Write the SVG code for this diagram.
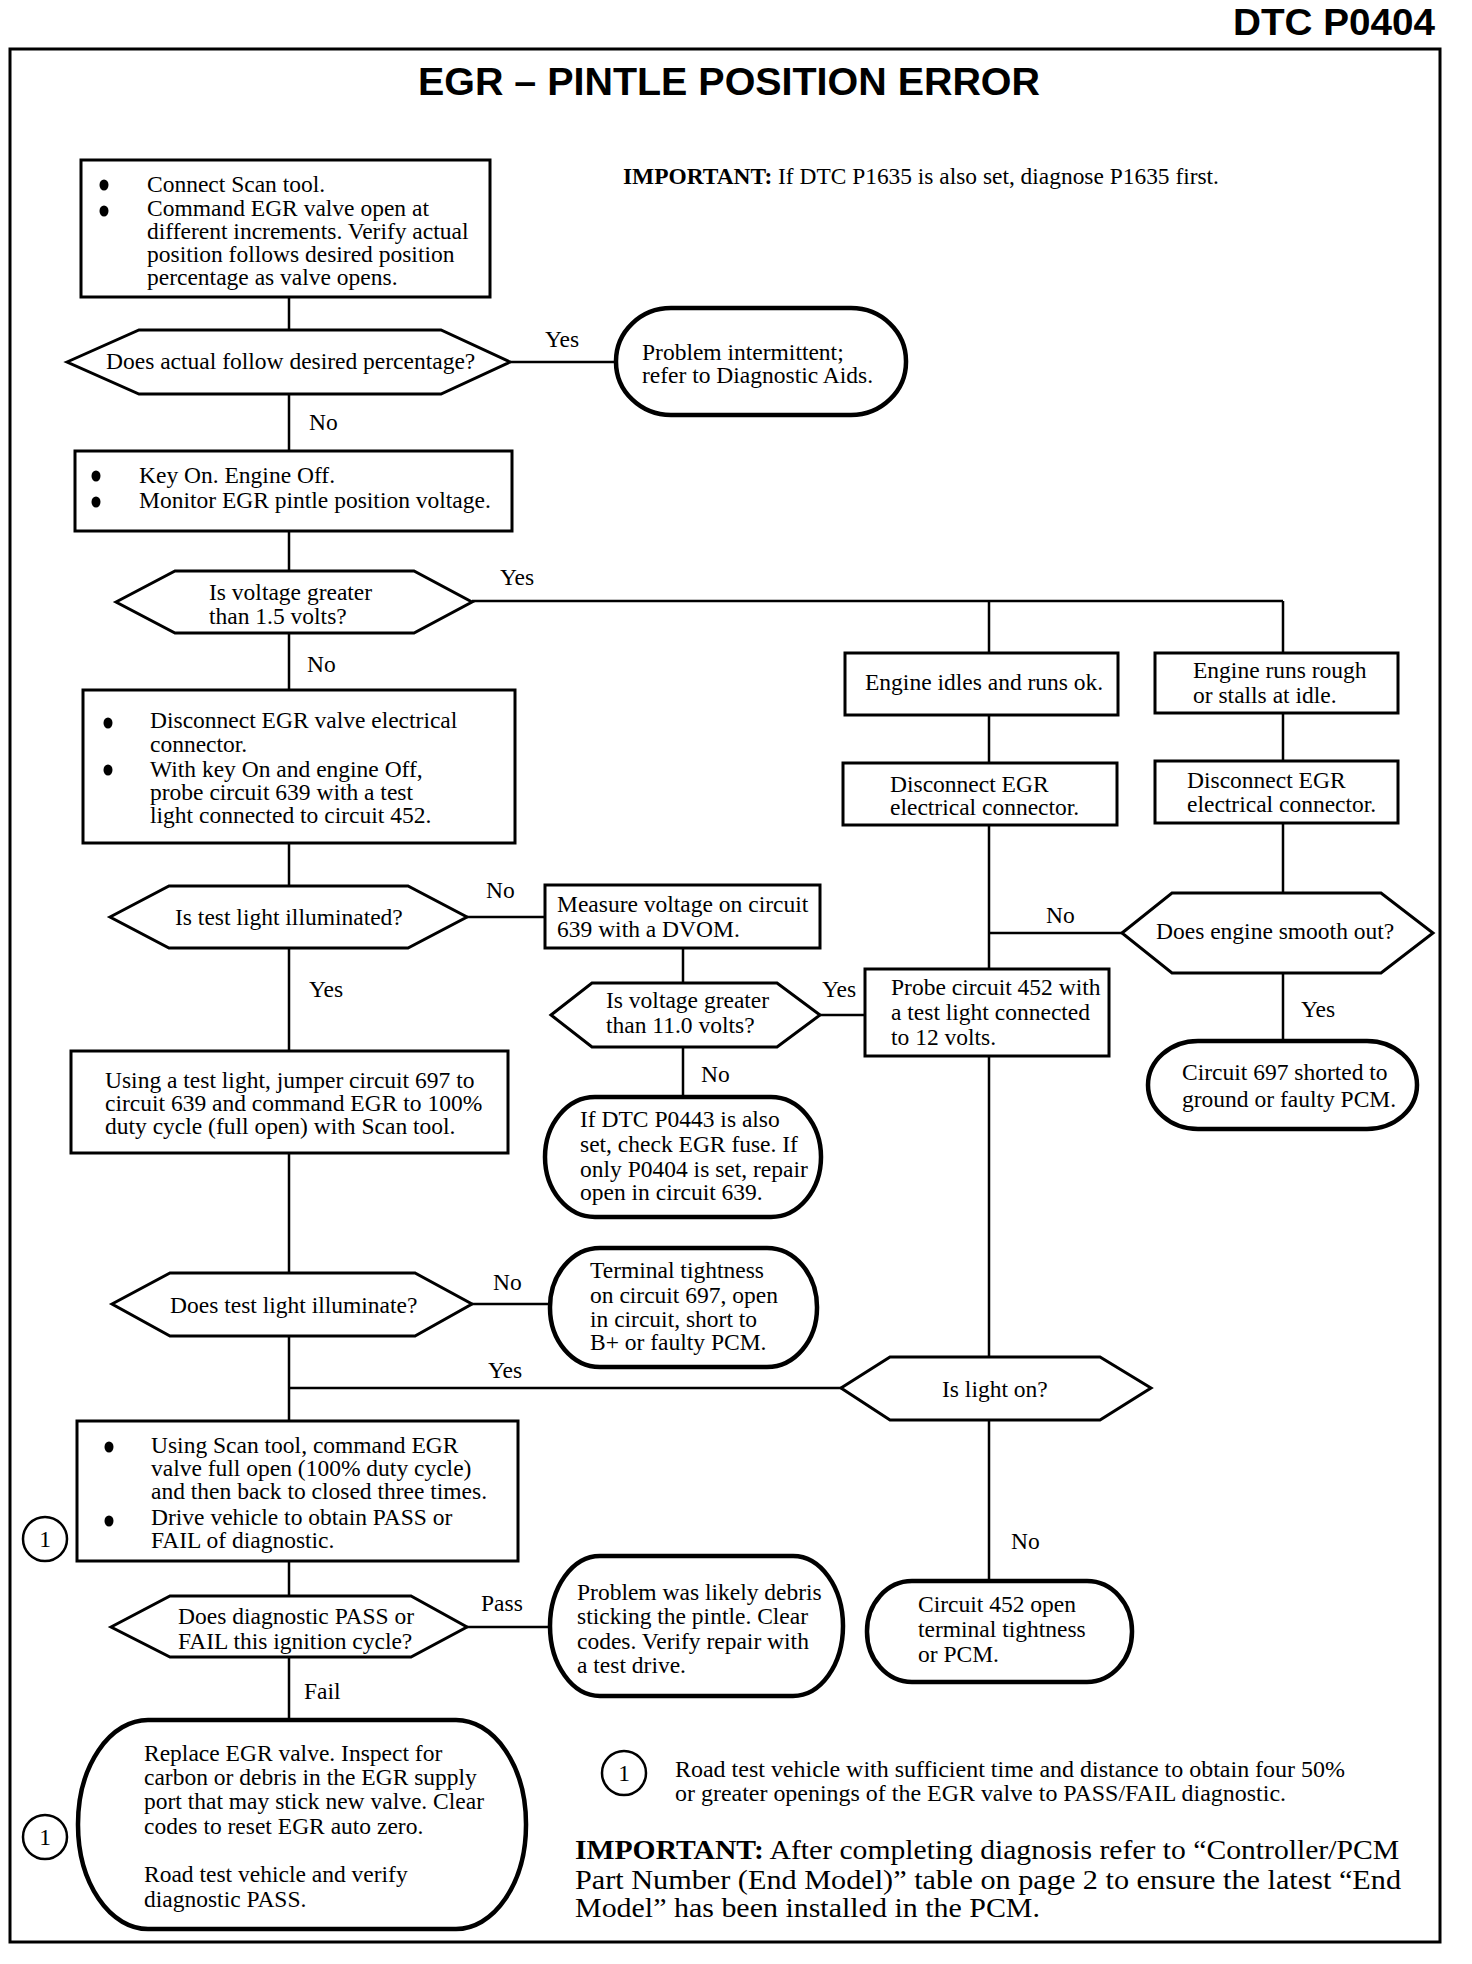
<svg xmlns="http://www.w3.org/2000/svg" width="1472" height="1964" viewBox="0 0 1472 1964">
<style>
.box{fill:#fff;stroke:#000;stroke-width:3}
.dec{fill:#fff;stroke:#000;stroke-width:3;stroke-linejoin:miter}
.term{fill:#fff;stroke:#000;stroke-width:4.5}
.ln{stroke:#000;stroke-width:2.5;fill:none}
.t{font-family:"Liberation Serif","Times New Roman",serif;font-size:23.5px;fill:#000}
.big{font-family:"Liberation Serif","Times New Roman",serif;font-size:28px;fill:#000}
.h{font-family:"Liberation Sans",Arial,sans-serif;font-weight:bold;fill:#000}
.b{font-weight:bold}
.dot{fill:#000}
.circ{fill:#fff;stroke:#000;stroke-width:2.5}
</style>
<rect width="1472" height="1964" fill="#fff"/>
<rect x="10" y="49" width="1430" height="1893" fill="none" stroke="#000" stroke-width="3"/>
<text class="h" x="1233" y="35" font-size="36" textLength="202" lengthAdjust="spacingAndGlyphs">DTC P0404</text>
<text class="h" x="418" y="95" font-size="39" textLength="622" lengthAdjust="spacingAndGlyphs">EGR – PINTLE POSITION ERROR</text>
<text class="t" x="623" y="184" textLength="596" lengthAdjust="spacingAndGlyphs"><tspan class="b">IMPORTANT:</tspan> If DTC P1635 is also set, diagnose P1635 first.</text>

<g id="connectors">
<path class="ln" d="M289,297V330 M510,362H616 M289,394V451 M289,531V571 M472,601H1283 M989,601V653 M1283,601V653 M989,715V763 M1283,713V761 M989,825V969 M1283,823V893 M1122,933H989 M1283,973V1041 M289,633V690 M289,843V886 M467,917H545 M683,948V983 M820,1015H865 M683,1047V1097 M989,1056V1357 M289,948V1051 M289,1153V1273 M472,1304H550 M289,1336V1421 M841,1388H289 M989,1420V1581 M289,1561V1596 M467,1627H550 M289,1657V1720"/>
<text class="t" x="545" y="347">Yes</text>
<text class="t" x="309" y="430">No</text>
<text class="t" x="500" y="585">Yes</text>
<text class="t" x="307" y="672">No</text>
<text class="t" x="1046" y="923">No</text>
<text class="t" x="1301" y="1017">Yes</text>
<text class="t" x="486" y="898">No</text>
<text class="t" x="822" y="997">Yes</text>
<text class="t" x="701" y="1082">No</text>
<text class="t" x="309" y="997">Yes</text>
<text class="t" x="493" y="1290">No</text>
<text class="t" x="488" y="1378">Yes</text>
<text class="t" x="1011" y="1549">No</text>
<text class="t" x="481" y="1611">Pass</text>
<text class="t" x="304" y="1699">Fail</text>
</g>

<g id="n-connect">
<rect class="box" x="81" y="160" width="409" height="137"/>
<ellipse class="dot" cx="104" cy="185" rx="4.5" ry="5.5"/>
<ellipse class="dot" cx="104" cy="211" rx="4.5" ry="5.5"/>
<text class="t" x="147" y="192">Connect Scan tool.</text>
<text class="t" x="147" y="216">Command EGR valve open at</text>
<text class="t" x="147" y="239">different increments. Verify actual</text>
<text class="t" x="147" y="262">position follows desired position</text>
<text class="t" x="147" y="285">percentage as valve opens.</text>
</g>

<g id="n-dec-follow">
<polygon class="dec" points="67,362 139,330 441,330 510,362 441,394 139,394"/>
<text class="t" x="106" y="369">Does actual follow desired percentage?</text>
</g>

<g id="n-intermittent">
<rect class="term" x="616" y="308" width="290" height="107" rx="55" ry="53"/>
<text class="t" x="642" y="360">Problem intermittent;</text>
<text class="t" x="642" y="383">refer to Diagnostic Aids.</text>
</g>

<g id="n-keyon">
<rect class="box" x="75" y="451" width="437" height="80"/>
<ellipse class="dot" cx="96" cy="476" rx="4.5" ry="5.5"/>
<ellipse class="dot" cx="96" cy="502" rx="4.5" ry="5.5"/>
<text class="t" x="139" y="483">Key On. Engine Off.</text>
<text class="t" x="139" y="508">Monitor EGR pintle position voltage.</text>
</g>

<g id="n-dec-15v">
<polygon class="dec" points="116,602 175,571 414,571 472,602 414,633 175,633"/>
<text class="t" x="209" y="600">Is voltage greater</text>
<text class="t" x="209" y="624">than 1.5 volts?</text>
</g>

<g id="n-idles-ok">
<rect class="box" x="845" y="653" width="273" height="62"/>
<text class="t" x="865" y="690">Engine idles and runs ok.</text>
</g>

<g id="n-runs-rough">
<rect class="box" x="1155" y="653" width="243" height="60"/>
<text class="t" x="1193" y="678">Engine runs rough</text>
<text class="t" x="1193" y="703">or stalls at idle.</text>
</g>

<g id="n-disc-mid">
<rect class="box" x="843" y="763" width="274" height="62"/>
<text class="t" x="890" y="792">Disconnect EGR</text>
<text class="t" x="890" y="815">electrical connector.</text>
</g>

<g id="n-disc-right">
<rect class="box" x="1155" y="761" width="243" height="62"/>
<text class="t" x="1187" y="788">Disconnect EGR</text>
<text class="t" x="1187" y="812">electrical connector.</text>
</g>

<g id="n-dec-smooth">
<polygon class="dec" points="1122,933 1172,893 1381,893 1433,933 1381,973 1172,973"/>
<text class="t" x="1156" y="939">Does engine smooth out?</text>
</g>

<g id="n-697-short">
<rect class="term" x="1148" y="1041" width="269" height="88" rx="50" ry="44"/>
<text class="t" x="1182" y="1080">Circuit 697 shorted to</text>
<text class="t" x="1182" y="1107">ground or faulty PCM.</text>
</g>

<g id="n-disconnect-valve">
<rect class="box" x="83" y="690" width="432" height="153"/>
<ellipse class="dot" cx="108" cy="723" rx="4.5" ry="5.5"/>
<ellipse class="dot" cx="108" cy="770" rx="4.5" ry="5.5"/>
<text class="t" x="150" y="728">Disconnect EGR valve electrical</text>
<text class="t" x="150" y="752">connector.</text>
<text class="t" x="150" y="777">With key On and engine Off,</text>
<text class="t" x="150" y="800">probe circuit 639 with a test</text>
<text class="t" x="150" y="823">light connected to circuit 452.</text>
</g>

<g id="n-dec-illuminated">
<polygon class="dec" points="110,917 169,886 408,886 467,917 408,948 169,948"/>
<text class="t" x="175" y="925">Is test light illuminated?</text>
</g>

<g id="n-measure">
<rect class="box" x="545" y="885" width="275" height="63"/>
<text class="t" x="557" y="912">Measure voltage on circuit</text>
<text class="t" x="557" y="937">639 with a DVOM.</text>
</g>

<g id="n-dec-11v">
<polygon class="dec" points="551,1015 592,983 777,983 820,1015 777,1047 592,1047"/>
<text class="t" x="606" y="1008">Is voltage greater</text>
<text class="t" x="606" y="1033">than 11.0 volts?</text>
</g>

<g id="n-probe">
<rect class="box" x="865" y="969" width="244" height="87"/>
<text class="t" x="891" y="995">Probe circuit 452 with</text>
<text class="t" x="891" y="1020">a test light connected</text>
<text class="t" x="891" y="1045">to 12 volts.</text>
</g>

<g id="n-p0443">
<rect class="term" x="545" y="1097" width="276" height="120" rx="50" ry="60"/>
<text class="t" x="580" y="1127">If DTC P0443 is also</text>
<text class="t" x="580" y="1152">set, check EGR fuse. If</text>
<text class="t" x="580" y="1177">only P0404 is set, repair</text>
<text class="t" x="580" y="1200">open in circuit 639.</text>
</g>

<g id="n-jumper">
<rect class="box" x="71" y="1051" width="437" height="102"/>
<text class="t" x="105" y="1088">Using a test light, jumper circuit 697 to</text>
<text class="t" x="105" y="1111">circuit 639 and command EGR to 100%</text>
<text class="t" x="105" y="1134">duty cycle (full open) with Scan tool.</text>
</g>

<g id="n-dec-illuminate">
<polygon class="dec" points="112,1304 170,1273 415,1273 472,1304 415,1336 170,1336"/>
<text class="t" x="170" y="1313">Does test light illuminate?</text>
</g>

<g id="n-terminal">
<rect class="term" x="550" y="1248" width="267" height="119" rx="50" ry="59"/>
<text class="t" x="590" y="1278">Terminal tightness</text>
<text class="t" x="590" y="1303">on circuit 697, open</text>
<text class="t" x="590" y="1327">in circuit, short to</text>
<text class="t" x="590" y="1350">B+ or faulty PCM.</text>
</g>

<g id="n-dec-lighton">
<polygon class="dec" points="841,1388 890,1357 1100,1357 1151,1388 1100,1420 890,1420"/>
<text class="t" x="942" y="1397">Is light on?</text>
</g>

<g id="n-scan-cycle">
<rect class="box" x="77" y="1421" width="441" height="140"/>
<ellipse class="dot" cx="109" cy="1447" rx="4.5" ry="5.5"/>
<ellipse class="dot" cx="109" cy="1521" rx="4.5" ry="5.5"/>
<text class="t" x="151" y="1453">Using Scan tool, command EGR</text>
<text class="t" x="151" y="1476">valve full open (100% duty cycle)</text>
<text class="t" x="151" y="1499">and then back to closed three times.</text>
<text class="t" x="151" y="1525">Drive vehicle to obtain PASS or</text>
<text class="t" x="151" y="1548">FAIL of diagnostic.</text>
</g>

<g id="n-note1-a">
<circle class="circ" cx="45" cy="1539" r="22"/>
<text class="t" x="45" y="1547" text-anchor="middle">1</text>
</g>

<g id="n-dec-pass">
<polygon class="dec" points="111,1627 170,1596 411,1596 467,1627 411,1657 170,1657"/>
<text class="t" x="178" y="1624">Does diagnostic PASS or</text>
<text class="t" x="178" y="1649">FAIL this ignition cycle?</text>
</g>

<g id="n-debris">
<rect class="term" x="550" y="1556" width="293" height="140" rx="50" ry="70"/>
<text class="t" x="577" y="1600">Problem was likely debris</text>
<text class="t" x="577" y="1624">sticking the pintle. Clear</text>
<text class="t" x="577" y="1649">codes. Verify repair with</text>
<text class="t" x="577" y="1673">a test drive.</text>
</g>

<g id="n-452-open">
<rect class="term" x="867" y="1581" width="265" height="101" rx="45" ry="50"/>
<text class="t" x="918" y="1612">Circuit 452 open</text>
<text class="t" x="918" y="1637">terminal tightness</text>
<text class="t" x="918" y="1662">or PCM.</text>
</g>

<g id="n-replace">
<rect class="term" x="78" y="1720" width="448" height="209" rx="70" ry="104"/>
<text class="t" x="144" y="1761">Replace EGR valve. Inspect for</text>
<text class="t" x="144" y="1785">carbon or debris in the EGR supply</text>
<text class="t" x="144" y="1809">port that may stick new valve. Clear</text>
<text class="t" x="144" y="1834">codes to reset EGR auto zero.</text>
<text class="t" x="144" y="1882">Road test vehicle and verify</text>
<text class="t" x="144" y="1907">diagnostic PASS.</text>
</g>

<g id="n-note1-b">
<circle class="circ" cx="45" cy="1837" r="22"/>
<text class="t" x="45" y="1845" text-anchor="middle">1</text>
</g>

<g id="n-footnote">
<circle class="circ" cx="624" cy="1773" r="22"/>
<text class="t" x="624" y="1781" text-anchor="middle">1</text>
<text class="t" x="675" y="1777" textLength="670" lengthAdjust="spacingAndGlyphs">Road test vehicle with sufficient time and distance to obtain four 50%</text>
<text class="t" x="675" y="1801" textLength="611" lengthAdjust="spacingAndGlyphs">or greater openings of the EGR valve to PASS/FAIL diagnostic.</text>
</g>

<g id="n-important-end">
<text class="big" x="575" y="1859" textLength="824" lengthAdjust="spacingAndGlyphs"><tspan class="b">IMPORTANT:</tspan> After completing diagnosis refer to “Controller/PCM</text>
<text class="big" x="575" y="1889" textLength="826" lengthAdjust="spacingAndGlyphs">Part Number (End Model)” table on page 2 to ensure the latest “End</text>
<text class="big" x="575" y="1917" textLength="465" lengthAdjust="spacingAndGlyphs">Model” has been installed in the PCM.</text>
</g>
</svg>
